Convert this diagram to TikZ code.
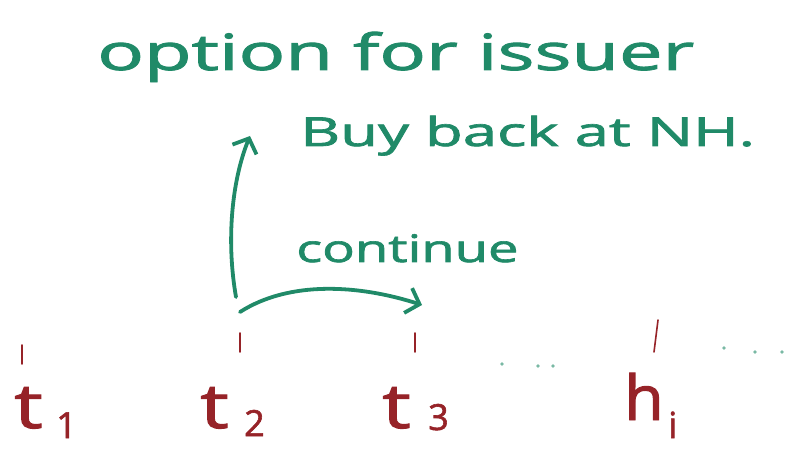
\documentclass[tikz,border=0pt]{standalone}
\usepackage{fontspec}
\setmainfont{Open Sans}
\newfontfamily\penfont[FakeBold=1.6]{Open Sans}
\usetikzlibrary{arrows.meta}
\definecolor{ink}{RGB}{32,138,104}
\definecolor{redink}{RGB}{150,35,40}
\tikzset{
  greentext/.style={text=ink, inner sep=0pt, anchor=base west},
  redtext/.style={text=redink, inner sep=0pt, anchor=base west, xscale=1.3, font=\penfont\fontsize{62}{66}\selectfont},
  subtext/.style={text=redink, inner sep=0pt, anchor=base west, font=\penfont\fontsize{36}{40}\selectfont},
  tickmark/.style={draw=redink, line width=1.6pt, line cap=round},
  penarrow/.style={draw=ink, line width=3.8pt, line cap=round, -{Straight Barb[length=12pt,width=26pt,line width=3.8pt]}},
  dotmark/.style={fill=ink!60, circle, inner sep=1.4pt}
}
\begin{document}
\begin{tikzpicture}[x=1pt,y=-1pt]
\useasboundingbox (0,0) rectangle (793,449);
\node[greentext, xscale=1.55, font=\penfont\fontsize{50}{56}\selectfont] (title) at (97,70) {option for issuer};
\node[greentext, xscale=1.54, font=\penfont\fontsize{40}{46}\selectfont] (buy) at (300,146) {Buy back at NH.};
\node[greentext, xscale=1.43, font=\penfont\fontsize{38}{44}\selectfont] (cont) at (296,262) {continue};
\coordinate (s1) at (236,297);
\coordinate (e1) at (250,136);
\coordinate (s2) at (240,312);
\coordinate (e2) at (422,305);
\draw[penarrow] (s1) .. controls (226,240) and (232,180) .. (e1);
\draw[penarrow] (s2) .. controls (290,280) and (360,285) .. (e2);
% ticks
\coordinate (k1a) at (22,345); \coordinate (k1b) at (22,364);
\coordinate (k2a) at (240,333); \coordinate (k2b) at (240,352);
\coordinate (k3a) at (415,333); \coordinate (k3b) at (415,352);
\coordinate (k4a) at (658,320); \coordinate (k4b) at (654,352);
\draw[tickmark] (k1a) -- (k1b);
\draw[tickmark] (k2a) -- (k2b);
\draw[tickmark] (k3a) -- (k3b);
\draw[tickmark] (k4a) -- (k4b);
\node[redtext] (t1) at (14,428) {t};
\node[subtext] (s1n) at (56,438) {1};
\node[redtext] (t2) at (200,428) {t};
\node[subtext] (s2n) at (244,436) {2};
\node[redtext] (t3) at (382,428) {t};
\node[subtext] (s3n) at (428,430) {3};
\node[redtext, xscale=0.8] (ti) at (624,420) {h};
\node[subtext] (sin) at (668,438) {i};
\node[dotmark] (d1) at (502,364) {};
\node[dotmark] (d2) at (538,366) {};
\node[dotmark] (d3) at (553,366) {};
\node[dotmark] (d4) at (724,348) {};
\node[dotmark] (d5) at (755,352) {};
\node[dotmark] (d6) at (782,352) {};
\end{tikzpicture}
\end{document}
